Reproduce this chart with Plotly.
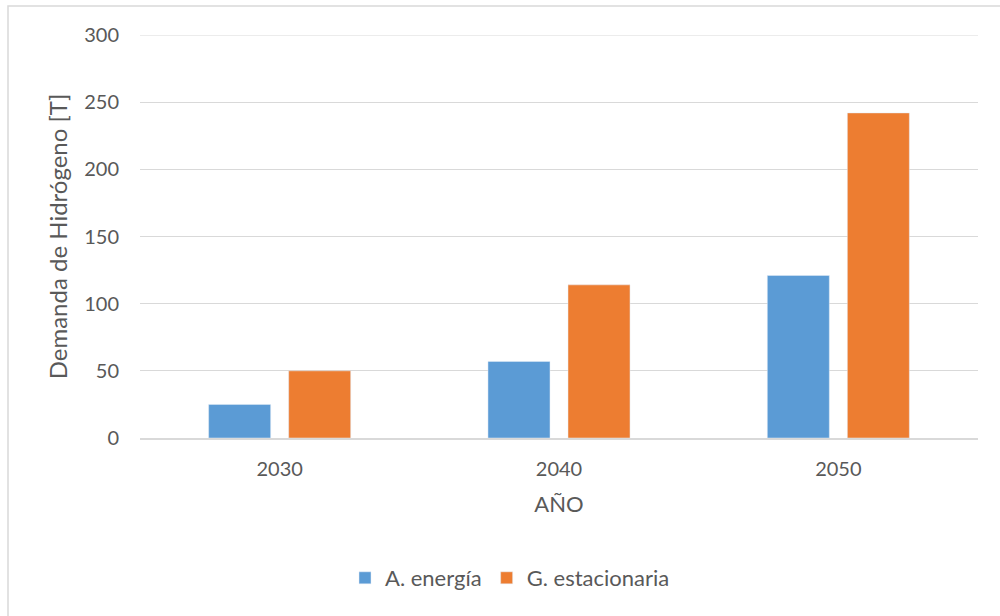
import plotly.graph_objects as go

years = ["2030", "2040", "2050"]
a_energia = [25, 57, 121]
g_estacionaria = [50, 114, 242]
y_ticks = [0, 50, 100, 150, 200, 250, 300]

FONT = "Lato"
TXT = "#595959"
GRID = "#d9d9d9"

fig = go.Figure()
fig.add_trace(go.Bar(x=years, y=a_energia, name="A. energía", marker_color="#5b9bd5"))
fig.add_trace(go.Bar(x=years, y=g_estacionaria, name="G. estacionaria", marker_color="#ed7d31"))

L, R, T, B = 140, 22, 35, 178
W, H = 1000, 616
pw, ph = W - L - R, H - T - B

def px(x):
    return (x - L) / pw

def py(y):
    return (H - B - y) / ph

fig.update_layout(
    width=W, height=H,
    margin=dict(l=L, r=R, t=T, b=B, autoexpand=False),
    paper_bgcolor="white", plot_bgcolor="white",
    font=dict(family=FONT, color=TXT, size=20),
    barmode="group", bargap=0.427, bargroupgap=0.225,
    showlegend=True,
    legend=dict(orientation="h", x=px(510), xanchor="center", y=py(578), yanchor="middle",
                font=dict(size=22, color=TXT), itemwidth=30, traceorder="normal"),
    xaxis=dict(showgrid=False, showline=True, linecolor=GRID, linewidth=1.5,
               ticks="", tickfont=dict(size=20, color=TXT), ticklabelstandoff=12,
               title=dict(text="AÑO", font=dict(size=22, color=TXT), standoff=18)),
    yaxis=dict(range=[0, 300], tickvals=y_ticks, showgrid=True, gridcolor=GRID, gridwidth=1.2,
               zeroline=False, showline=False, ticks="", tickfont=dict(size=20, color=TXT),
               ticklabelstandoff=20,
               title=dict(text="Demanda de Hidrógeno [T]", font=dict(size=24, color=TXT), standoff=9)),
    shapes=[
        dict(type="rect", xref="paper", yref="paper",
             x0=px(8), x1=px(1010), y0=py(630), y1=py(6),
             line=dict(color=GRID, width=1.5), fillcolor="rgba(0,0,0,0)", layer="below"),
        dict(type="line", xref="paper", yref="y", x0=0, x1=1, y0=y_ticks[-1], y1=y_ticks[-1],
             line=dict(color=GRID, width=1.2), layer="below"),
    ],
)

fig.write_html("out.html")
